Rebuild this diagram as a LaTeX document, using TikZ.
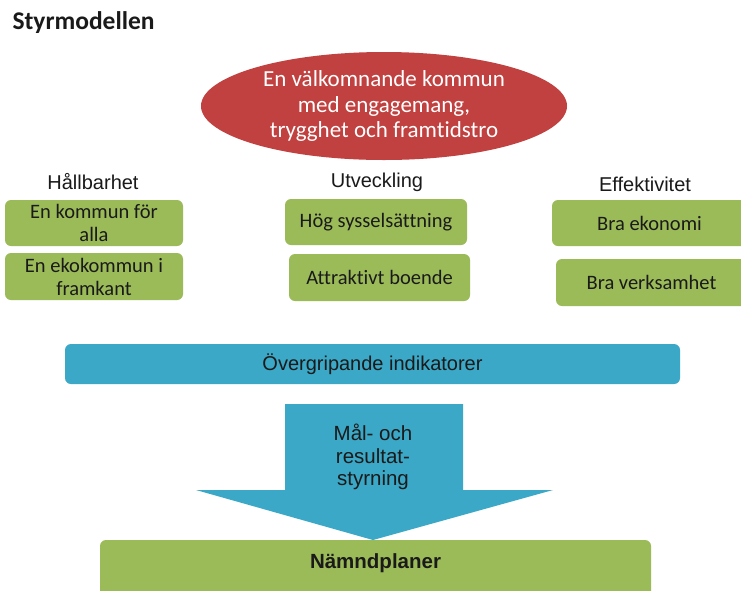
\documentclass[tikz,border=0pt]{standalone}
\usepackage{fontspec}
\setmainfont{Carlito}[Ligatures=NoCommon]
\newfontfamily\arialf{Liberation Sans}
\usetikzlibrary{shapes.geometric}
\definecolor{myred}{HTML}{C0413F}
\definecolor{mygreen}{HTML}{9BBB59}
\definecolor{myblue}{HTML}{3AA8C6}
\definecolor{txt}{HTML}{1A1A1A}
\begin{document}
\begin{tikzpicture}[x=1pt,y=-1pt,
  gbox/.style={rectangle, rounded corners=6pt, fill=mygreen, inner sep=1pt,
    align=center, text=txt, font=\fontsize{20.5}{23}\selectfont},
  head/.style={text=txt, font=\arialf\fontsize{20}{23}\selectfont},
]
\useasboundingbox (0,0) rectangle (741,590);
\fill[white] (0,0) rectangle (741,590);

\node[anchor=west, text=txt, font=\bfseries\fontsize{25.5}{28}\selectfont] (title) at (9,23) {Styrmodellen};

\node[ellipse, fill=myred, minimum width=366pt, minimum height=108pt, inner sep=0pt,
  align=center, text=white, font=\fontsize{23}{25.5}\selectfont] (vision) at (384,106)
  {En välkomnande kommun\\med engagemang,\\trygghet och framtidstro};

\node[head] (h1) at (93,182) {Hållbarhet};
\node[head] (h2) at (377,182) {Utveckling};
\node[head] (h3) at (645,184) {Effektivitet};

\node[gbox, minimum width=178pt, minimum height=46pt] (l1) at (94,223) {En kommun för\\alla};
\node[gbox, minimum width=178pt, minimum height=47pt] (l2) at (94,276.5) {En ekokommun i\\framkant};
\node[gbox, minimum width=182pt, minimum height=46pt] (m1) at (376,222) {Hög sysselsättning};
\node[gbox, minimum width=181pt, minimum height=47pt] (m2) at (379.5,277.5) {Attraktivt boende};
\node[gbox, minimum width=195pt, minimum height=46pt] (r1) at (649.5,223) {Bra ekonomi};
\node[gbox, minimum width=191pt, minimum height=47pt] (r2) at (651.5,282.5) {Bra verksamhet};

\node[rectangle, rounded corners=6pt, fill=myblue, minimum width=615pt, minimum height=40pt,
  text=txt, font=\arialf\fontsize{20}{23}\selectfont] (ind) at (372.5,364) {Övergripande indikatorer};

\fill[myblue] (285,404) -- (463,404) -- (463,490) -- (553,490) -- (373,540)
  -- (196,490) -- (285,490) -- cycle;
\node[align=center, text=txt, font=\arialf\fontsize{20.5}{22.5}\selectfont] (arrtxt) at (373,457)
  {Mål- och\\resultat-\\styrning};

\node[rectangle, rounded corners=6pt, fill=mygreen, minimum width=551pt, minimum height=64pt,
  inner sep=0pt] (plan) at (375.5,572) {};
\node[text=txt, font=\arialf\bfseries\fontsize{20.5}{23}\selectfont] (plantxt) at (375.5,563) {Nämndplaner};
\end{tikzpicture}
\end{document}
